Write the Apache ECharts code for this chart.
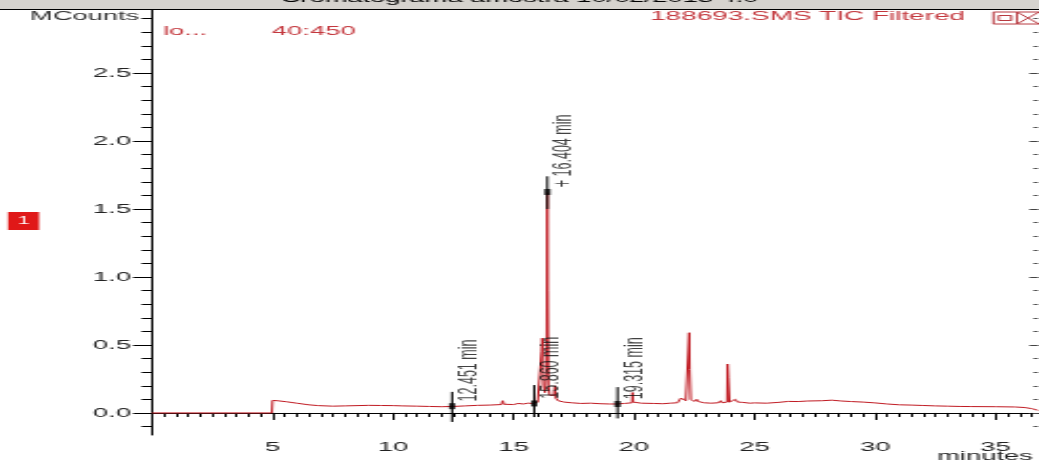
<!DOCTYPE html>
<html>
<head>
<meta charset="utf-8">
<script src="https://cdn.jsdelivr.net/npm/echarts@6/dist/echarts.min.js"></script>
<style>
  html, body { margin: 0; padding: 0; background: #ffffff; overflow: hidden; }
  #chart { width: 495px; height: 461px; transform: scaleX(2.099); transform-origin: 0 0; }
</style>
</head>
<body>
<div id="chart"></div>
<script>
// ---- data (retention time in minutes, intensity in MCounts) ----
const times = [0, 4.97, 5.0, 5.2, 5.6, 6.0, 6.5, 6.9, 7.0, 7.03, 7.06, 7.5, 8.0, 8.5, 9.0, 9.5, 10.0, 10.4, 10.5, 10.55,
  11.0, 11.5, 12.0, 12.5, 13.0, 13.5, 14.0, 14.5, 14.55, 14.6, 15.0, 15.2, 15.4, 15.6, 15.8, 16.0, 16.14, 16.16, 16.19, 16.22,
  16.25, 16.30, 16.37, 16.40, 16.42, 16.45, 16.5, 16.6, 16.68, 16.72, 16.75, 16.85, 17.0, 17.1, 17.4, 17.8, 18.2, 18.6, 19.0, 19.3,
  19.6, 19.92, 19.94, 19.96, 20.3, 20.8, 21.2, 21.5, 21.8, 21.95, 22.05, 22.15, 22.27, 22.29, 22.31, 22.33, 22.35, 22.5, 22.6, 22.65,
  22.9, 23.2, 23.5, 23.6, 23.65, 23.86, 23.88, 23.91, 23.94, 23.96, 24.1, 24.2, 24.3, 24.4, 24.5, 24.8, 25.0, 25.5, 26.0, 26.4,
  26.8, 27.2, 27.8, 28.2, 28.6, 29.0, 29.5, 30.0, 30.5, 31.0, 31.5, 32.0, 32.5, 33.0, 33.5, 34.0, 35.0, 35.8, 36.2, 36.5, 36.75];
const mcounts = [0, 0, 0.092, 0.09, 0.082, 0.072, 0.06, 0.054, 0.056, 0.064, 0.055, 0.05, 0.052, 0.054, 0.056, 0.055, 0.054, 0.052, 0.057, 0.052,
  0.05, 0.048, 0.046, 0.048, 0.052, 0.056, 0.058, 0.062, 0.09, 0.064, 0.062, 0.07, 0.066, 0.072, 0.07, 0.078, 0.09, 0.45, 0.55, 0.5,
  0.2, 0.15, 0.3, 1.62, 0.9, 0.2, 0.13, 0.12, 0.13, 0.2, 0.11, 0.09, 0.1, 0.08, 0.075, 0.07, 0.072, 0.068, 0.066, 0.066,
  0.07, 0.075, 0.15, 0.08, 0.072, 0.07, 0.068, 0.072, 0.075, 0.11, 0.1, 0.09, 0.1, 0.59, 0.32, 0.32, 0.1, 0.085, 0.1, 0.085,
  0.075, 0.072, 0.075, 0.09, 0.075, 0.08, 0.36, 0.26, 0.26, 0.08, 0.085, 0.1, 0.08, 0.09, 0.078, 0.072, 0.074, 0.072, 0.078, 0.085,
  0.084, 0.088, 0.09, 0.094, 0.088, 0.084, 0.08, 0.074, 0.066, 0.06, 0.058, 0.055, 0.052, 0.05, 0.048, 0.047, 0.046, 0.044, 0.04, 0.032, 0.02];

const markerTimes = [12.451, 15.860, 16.404, 19.315];
const markerLevels = [0.05, 0.07, 1.625, 0.066];
const markerLow = [-0.066, -0.03, 1.50, -0.04];
const markerHigh = [0.155, 0.205, 1.74, 0.19];
const markerLabels = ['12.451 min', '15.860 min', '+ 16.404 min', '19.315 min'];

const xTickValues = [5, 10, 15, 20, 25, 30, 35];
const yTickValues = [0, 0.5, 1.0, 1.5, 2.0, 2.5];

const title = 'Cromatograma amostra 10/02/2013 4.0';
const traceName = '188693.SMS TIC Filtered';
const yUnit = 'MCounts';
const xUnit = 'minutes';

// ---- build ----
const X_MIN = 0, X_MAX = 36.75, Y_MIN = -0.162, Y_MAX = 2.963;
function range(a, b, s) { const r = []; for (let v = a; v <= b + 1e-9; v += s) r.push(Math.round(v * 1000) / 1000); return r; }
const xMinor = range(0, 36.5, 0.5);
const xMajor = range(0, 35, 5);
const yMinor = range(-0.1, 2.9, 0.1);

const FONT = '"Liberation Sans", Arial, sans-serif';
const RED = '#c01a22';
const TXT_RED = '#c4383e';

const chart = echarts.init(document.getElementById('chart'), null, { renderer: 'canvas' });

const axisCommon = { type: 'value', min: X_MIN, max: X_MAX, splitLine: { show: false } };
const yCommon = { type: 'value', min: Y_MIN, max: Y_MAX, splitLine: { show: false } };

const markerLineSeries = markerTimes.map((t, i) => ({
  type: 'line', data: [[t, markerLow[i]], [t, markerHigh[i]]], showSymbol: false, silent: true,
  lineStyle: { color: '#000', width: 1 }, z: 5
}));

chart.setOption({
  animation: false,
  backgroundColor: '#ffffff',
  title: {
    text: title, left: 'center', top: -13,
    textStyle: { fontFamily: FONT, fontSize: 13, fontWeight: 'normal', color: '#000' }
  },
  grid: { left: 72.4, right: 0.6, top: 10, bottom: 26, containLabel: false },
  xAxis: [
    Object.assign({}, axisCommon, {
      position: 'bottom',
      axisLine: { show: true, lineStyle: { color: '#000', width: 1 } },
      axisTick: { show: true, customValues: xMajor, length: 7, lineStyle: { color: '#000' } },
      axisLabel: { show: true, customValues: xTickValues, margin: 6, fontFamily: FONT, fontSize: 13, color: '#222' }
    }),
    Object.assign({}, axisCommon, {
      position: 'bottom',
      axisLine: { show: false },
      axisTick: { show: true, customValues: xMinor, length: 4, lineStyle: { color: '#000' } },
      axisLabel: { show: false }
    })
  ],
  yAxis: [
    Object.assign({}, yCommon, {
      position: 'left',
      axisLine: { show: true, lineStyle: { color: '#000', width: 1 } },
      axisTick: { show: true, customValues: yTickValues, length: 9, lineStyle: { color: '#000' } },
      axisLabel: { show: true, customValues: yTickValues, margin: 10, fontFamily: FONT, fontSize: 13, color: '#222',
        formatter: v => Number(v).toFixed(1) }
    }),
    Object.assign({}, yCommon, {
      position: 'left',
      axisLine: { show: false },
      axisTick: { show: true, customValues: yMinor, length: 5, lineStyle: { color: '#000' } },
      axisLabel: { show: false }
    }),
    Object.assign({}, yCommon, {
      position: 'right',
      axisLine: { show: false },
      axisTick: { show: true, inside: true, customValues: yMinor, length: 2, lineStyle: { color: '#444' } },
      axisLabel: { show: false }
    }),
    Object.assign({}, yCommon, {
      position: 'right',
      axisLine: { show: false },
      axisTick: { show: true, inside: true, customValues: yTickValues, length: 4, lineStyle: { color: '#444' } },
      axisLabel: { show: false }
    })
  ],
  series: [
    {
      type: 'line', name: traceName, data: times.map((t, i) => [t, mcounts[i]]),
      showSymbol: false, silent: true, sampling: null,
      lineStyle: { color: RED, width: 1 }, z: 3
    },
    ...markerLineSeries,
    {
      type: 'scatter', data: markerTimes.map((t, i) => [t, markerLevels[i]]),
      symbol: 'rect', symbolSize: [3, 6], itemStyle: { color: '#000' }, silent: true, z: 6
    },
    {
      type: 'scatter', data: markerTimes.map((t, i) => [t + 0.72, markerLevels[i] + 0.035]),
      symbolSize: 0, silent: true, z: 7,
      label: {
        show: true, position: 'inside', rotate: 90, align: 'left', verticalAlign: 'middle',
        fontFamily: FONT, fontSize: 12.5, color: '#111',
        formatter: p => markerLabels[p.dataIndex]
      }
    }
  ],
  graphic: [
    { type: 'rect', shape: { x: 0, y: 0, width: 495, height: 9 }, style: { fill: '#d6d3ce' }, z: -1, silent: true },
    { type: 'line', shape: { x1: 0, y1: 9.5, x2: 495, y2: 9.5 }, style: { stroke: '#000', lineWidth: 1 }, silent: true },
    { type: 'text', x: 14.3, y: 16.5, style: { text: yUnit, fontFamily: FONT, fontSize: 13, fill: '#333', verticalAlign: 'middle' } },
    { type: 'text', x: 77.7, y: 31.5, style: { text: 'lo...', fontFamily: FONT, fontSize: 13, fill: TXT_RED, verticalAlign: 'middle' } },
    { type: 'text', x: 129.6, y: 31.5, style: { text: '40:450', fontFamily: FONT, fontSize: 13, fill: TXT_RED, verticalAlign: 'middle' } },
    { type: 'text', x: 309.7, y: 16.5, style: { text: traceName, fontFamily: FONT, fontSize: 13.3, fill: TXT_RED, verticalAlign: 'middle' } },
    { type: 'rect', shape: { x: 473.3, y: 12, width: 11.2, height: 12 }, style: { fill: 'none', stroke: '#b83a40', lineWidth: 1 } },
    { type: 'rect', shape: { x: 475.8, y: 15.5, width: 6, height: 5 }, style: { fill: 'none', stroke: '#b83a40', lineWidth: 1 } },
    { type: 'rect', shape: { x: 484.5, y: 12, width: 11, height: 12 }, style: { fill: 'none', stroke: '#b83a40', lineWidth: 1 } },
    { type: 'line', shape: { x1: 484.5, y1: 12, x2: 495, y2: 24 }, style: { stroke: '#b83a40', lineWidth: 1 } },
    { type: 'line', shape: { x1: 484.5, y1: 24, x2: 495, y2: 12 }, style: { stroke: '#b83a40', lineWidth: 1 } },
    { type: 'rect', shape: { x: 3.8, y: 212, width: 14.8, height: 18 }, style: { fill: '#e01818' } },
    { type: 'text', x: 11.2, y: 221, style: { text: '1', fontFamily: FONT, fontSize: 10, fill: '#fff', align: 'center', verticalAlign: 'middle' } },
    { type: 'text', x: 492, y: 463, style: { text: xUnit, fontFamily: FONT, fontSize: 13, fill: '#222', align: 'right', verticalAlign: 'bottom' } }
  ]
});
</script>
</body>
</html>
